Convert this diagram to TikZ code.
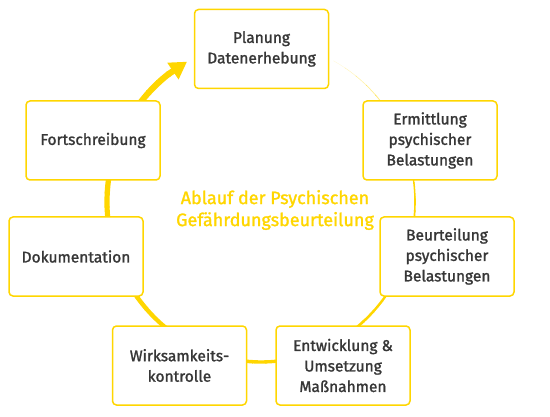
\documentclass[tikz,border=0pt]{standalone}
\usepackage{fontspec}
\setmainfont{Fira Sans}[FakeBold=1.4]
\usetikzlibrary{arrows.meta}
\definecolor{gelb}{RGB}{255,214,0}
\definecolor{txt}{RGB}{55,55,55}
\tikzset{
  stepbox/.style={draw=gelb, line width=1.5pt, rounded corners=4pt, fill=white,
    minimum width=134pt, minimum height=79pt, inner sep=0pt,
    text=txt, align=center, font=\fontsize{15.5pt}{20.5pt}\selectfont},
  titel/.style={text=gelb, align=center, font=\fontsize{18pt}{22pt}\selectfont}
}
\begin{document}
\begin{tikzpicture}[x=1pt,y=1pt]
\useasboundingbox (0,0) rectangle (550,416);
% growing circular arrow (ellipse centre 261,214; a=154, b=160)
\foreach \i in {0,...,58}{
  \pgfmathsetmacro{\ta}{62-\i*5}
  \pgfmathsetmacro{\tb}{\ta-5.4}
  \pgfmathsetmacro{\w}{0.4+\i*0.1}
  \pgfmathsetmacro{\op}{min(1,0.15+\i*0.09)}
  \draw[gelb, line width=\w pt, opacity=\op]
    ({261+154*cos(\ta)},{214+160*sin(\ta)}) arc[start angle=\ta, end angle=\tb, x radius=154, y radius=160];
}
\coordinate (ashaft) at ({261+154*cos(-233)},{214+160*sin(-233)});
\coordinate (atip) at ({261+154*cos(-241.3)},{214+160*sin(-241.3)});
\draw[gelb, line width=6.2pt, -{Triangle[length=17pt,width=19pt]}] (ashaft) -- (atip);

\node[stepbox] (plan) at (261.5,367) {Planung\\Datenerhebung};
\node[stepbox] (ermi) at (430,275.5) {Ermittlung\\psychischer\\Belastungen};
\node[stepbox] (fort) at (93,275.5) {Fortschreibung};
\node[stepbox] (doku) at (76,159.5) {Dokumentation};
\node[stepbox] (beur) at (447,159.5) {Beurteilung\\psychischer\\Belastungen};
\node[stepbox] (wirk) at (179.5,50.5) {Wirksamkeits-\\kontrolle};
\node[stepbox] (entw) at (343,50.5) {Entwicklung \&\\Umsetzung\\Maßnahmen};
\node[titel] (titel) at (275,206) {Ablauf der Psychischen\\Gefährdungsbeurteilung};
\end{tikzpicture}
\end{document}
